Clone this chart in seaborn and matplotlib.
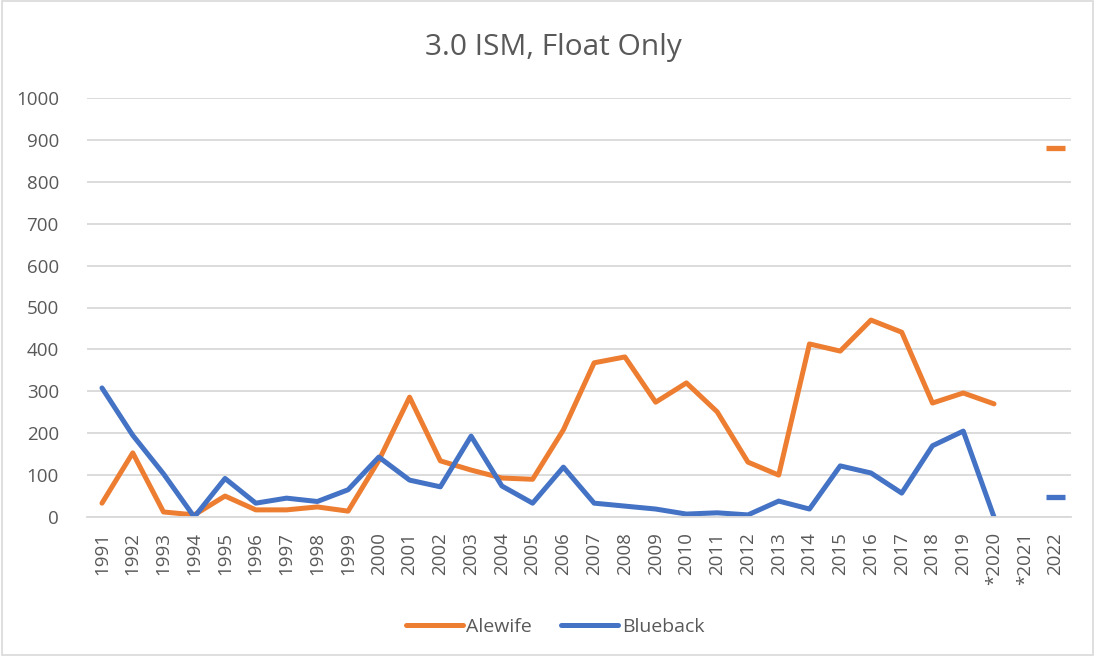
import numpy as np
import pandas as pd
import seaborn as sns
import matplotlib.pyplot as plt
from matplotlib.patches import Rectangle

years = ["1991", "1992", "1993", "1994", "1995", "1996", "1997", "1998", "1999", "2000",
         "2001", "2002", "2003", "2004", "2005", "2006", "2007", "2008", "2009", "2010",
         "2011", "2012", "2013", "2014", "2015", "2016", "2017", "2018", "2019", "*2020",
         "*2021", "2022"]
alewife = [33, 153, 12, 5, 50, 17, 17, 24, 14, 135,
           286, 134, 112, 93, 90, 208, 368, 382, 274, 320,
           251, 131, 100, 413, 396, 470, 441, 272, 296, 270,
           np.nan, 880]
blueback = [308, 195, 103, 0, 92, 33, 45, 37, 65, 143,
            88, 72, 193, 74, 33, 119, 33, 26, 19, 7,
            10, 5, 38, 19, 122, 105, 57, 170, 205, 0,
            np.nan, 48]

sns.set_theme(style="white")
plt.rcParams["font.family"] = ["Open Sans", "DejaVu Sans"]
grey = "#595959"

df = pd.DataFrame({
    "pos": list(range(len(years))) * 2,
    "count": alewife + blueback,
    "species": ["Alewife"] * len(years) + ["Blueback"] * len(years),
})
palette = {"Alewife": "#ED7D31", "Blueback": "#4472C4"}

# 2022 stands alone after the 2021 gap, drawn as a short dash
connected = df[df["pos"] <= years.index("*2020")]
alone = df[df["pos"] == years.index("2022")]

fig = plt.figure(figsize=(10.95, 6.56), dpi=100)
ax = fig.add_axes([0.0791, 0.2119, 0.8989, 0.6387])

sns.lineplot(data=connected, x="pos", y="count", hue="species", palette=palette,
             linewidth=3.6, ax=ax)
sns.scatterplot(data=alone, x="pos", y="count", hue="species", palette=palette,
                marker="_", s=190, linewidth=3.8, legend=False, ax=ax)

ax.set_ylim(0, 1000)
ax.set_xlim(-0.5, len(years) - 0.5)
ax.set_yticks(range(0, 1001, 100))
ax.set_xticks(range(len(years)))
ax.set_xticklabels(years, rotation=90)
ax.tick_params(axis="both", colors=grey, labelsize=13.5, length=0)
ax.tick_params(axis="y", pad=20)
ax.tick_params(axis="x", pad=11)
ax.yaxis.grid(True, color="#d9d9d9", linewidth=1.3)
ax.set_axisbelow(True)
for side in ["top", "right", "left"]:
    ax.spines[side].set_visible(False)
ax.spines["bottom"].set_color("#d9d9d9")
ax.spines["bottom"].set_linewidth(1.3)
ax.set_xlabel("")
ax.set_ylabel("")

fig.text(0.505, 0.927, "3.0 ISM, Float Only", ha="center", va="center",
         fontsize=21.5, color=grey)

leg = ax.legend(loc="center", bbox_to_anchor=(0.476, -0.262), ncol=2, frameon=False,
                fontsize=14, handlelength=2.9, handletextpad=0.2, columnspacing=1.5)
for t in leg.get_texts():
    t.set_color(grey)
for h in leg.get_lines():
    h.set_linewidth(3.6)

fig.patches.append(Rectangle((0.002, 0.002), 0.996, 0.996, transform=fig.transFigure,
                             fill=False, edgecolor="#d9d9d9", linewidth=1.2))

fig.savefig("out.png", dpi=100)
